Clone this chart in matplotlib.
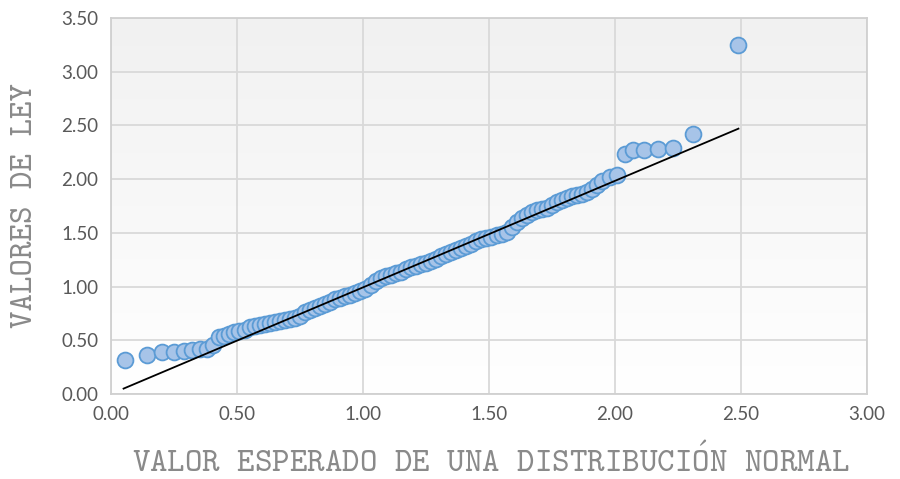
import numpy as np
import matplotlib
matplotlib.use('Agg')
from matplotlib import pyplot as plt

plt.rcParams['mathtext.fontset'] = 'cm'

# expected value of a normal distribution (x) vs sorted grade values (y)
esperado = [0.056, 0.143, 0.202, 0.25, 0.29, 0.32, 0.355, 0.38, 0.405, 0.43,
            0.45, 0.47, 0.49, 0.51, 0.53, 0.55, 0.57, 0.59, 0.61, 0.63,
            0.65, 0.67, 0.69, 0.71, 0.73, 0.75, 0.77, 0.79, 0.81, 0.83,
            0.85, 0.87, 0.89, 0.91, 0.93, 0.95, 0.97, 0.99, 1.01, 1.03,
            1.05, 1.07, 1.09, 1.11, 1.13, 1.15, 1.17, 1.19, 1.21, 1.23,
            1.25, 1.27, 1.29, 1.31, 1.33, 1.35, 1.37, 1.39, 1.41, 1.43,
            1.45, 1.47, 1.49, 1.51, 1.53, 1.55, 1.57, 1.59, 1.61, 1.63,
            1.65, 1.67, 1.69, 1.71, 1.73, 1.75, 1.77, 1.79, 1.81, 1.83,
            1.85, 1.87, 1.89, 1.91, 1.93, 1.95, 1.98, 2.01, 2.04, 2.07,
            2.115, 2.17, 2.23, 2.31, 2.49]
ley = [0.32, 0.36, 0.39, 0.39, 0.40, 0.41, 0.42, 0.42, 0.46, 0.53,
       0.54, 0.56, 0.58, 0.59, 0.60, 0.62, 0.63, 0.64, 0.65, 0.66,
       0.67, 0.68, 0.69, 0.70, 0.71, 0.73, 0.76, 0.78, 0.80, 0.82,
       0.84, 0.86, 0.88, 0.89, 0.91, 0.92, 0.94, 0.96, 0.98, 1.01,
       1.05, 1.08, 1.10, 1.11, 1.13, 1.14, 1.16, 1.18, 1.19, 1.21,
       1.22, 1.24, 1.26, 1.28, 1.30, 1.32, 1.34, 1.36, 1.38, 1.40,
       1.42, 1.44, 1.45, 1.46, 1.48, 1.49, 1.51, 1.55, 1.60, 1.64,
       1.67, 1.69, 1.71, 1.72, 1.73, 1.76, 1.79, 1.81, 1.82, 1.84,
       1.85, 1.86, 1.88, 1.91, 1.95, 1.98, 2.02, 2.04, 2.23, 2.27,
       2.27, 2.28, 2.29, 2.42, 3.25]

# reference line
linea_x = [0.05, 2.49]
linea_y = [0.05, 2.47]

x_ticks = [0.0, 0.5, 1.0, 1.5, 2.0, 2.5, 3.0]
y_ticks = [0.0, 0.5, 1.0, 1.5, 2.0, 2.5, 3.0, 3.5]

fig = plt.figure(figsize=(9, 4.79), dpi=100)
ax = fig.add_axes([0.1233, 0.1775, 0.84, 0.7849])

# soft gradient background like the original
grad = np.linspace(1.0, 0.0, 256).reshape(-1, 1)
bg = matplotlib.colors.LinearSegmentedColormap.from_list('bg', ['#f1f1f1', '#ffffff'])
ax.imshow(grad, extent=[0, 3, 0, 3.5], aspect='auto', cmap=bg, origin='lower', zorder=0)

ax.set_xlim(0, 3)
ax.set_ylim(0, 3.5)
ax.set_xticks(x_ticks)
ax.set_yticks(y_ticks)
ax.grid(True, color='#d9d9d9', linewidth=1.3, zorder=1)
ax.set_axisbelow(True)

ax.scatter(esperado, ley, s=130, facecolor='#a7c4e8', edgecolor='#5b9bd5', linewidth=1.3, zorder=3)
ax.plot(linea_x, linea_y, color='black', linewidth=1.3, zorder=4)

tick_font = ['Lato', 'DejaVu Sans']
ax.set_xticklabels(['%.2f' % v for v in x_ticks], family=tick_font, fontsize=13.5, color='#595959')
ax.set_yticklabels(['%.2f' % v for v in y_ticks], family=tick_font, fontsize=13.5, color='#595959')
ax.tick_params(length=0, pad=9)

for s in ax.spines.values():
    s.set_color('#d0d0d0')
    s.set_linewidth(1.3)

label_font = ['cmtt10', 'DejaVu Sans Mono']
fig.text(0.5455, 0.035, r'VALOR ESPERADO DE UNA DISTRIBUCI$\acute{\mathtt{O}}$N NORMAL', family=label_font,
         fontsize=24, color='#8a8a8a', ha='center', va='center')
fig.text(0.028, 0.57, 'VALORES DE LEY', family=label_font, fontsize=24, color='#8a8a8a',
         ha='center', va='center', rotation=90)

fig.savefig('out.png', dpi=100)
